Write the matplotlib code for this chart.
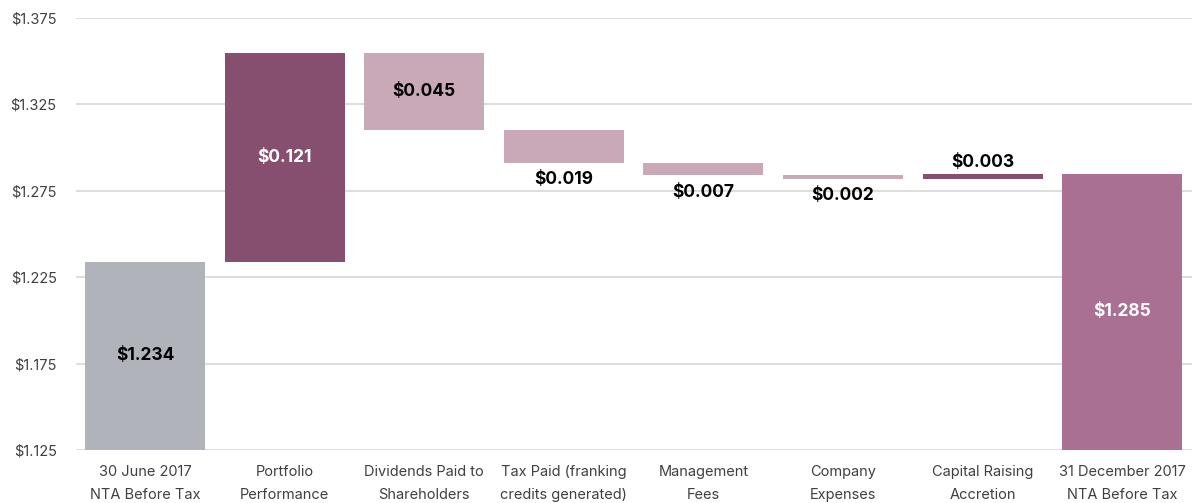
import matplotlib
matplotlib.use('Agg')
import matplotlib.pyplot as plt
import numpy as np

# Данні водоспаду NTA
categories = ['30 June 2017\nNTA Before Tax', 'Portfolio\nPerformance',
              'Dividends Paid to\nShareholders', 'Tax Paid (franking\ncredits generated)',
              'Management\nFees', 'Company\nExpenses', 'Capital Raising\nAccretion',
              '31 December 2017\nNTA Before Tax']
start_nta = 1.234
changes = [0.121, -0.045, -0.019, -0.007, -0.002, 0.003]
end_nta = 1.285
labels = ['$1.234', '$0.121', '$0.045', '$0.019', '$0.007', '$0.002', '$0.003', '$1.285']
yticks = [1.125, 1.175, 1.225, 1.275, 1.325, 1.375]

base_y = 1.125
c_grey = '#b0b3ba'
c_dark = '#874f6f'
c_light = '#c9a8b8'
c_end = '#aa7093'

plt.rcParams['font.family'] = ['Inter', 'DejaVu Sans']

fig = plt.figure(figsize=(11.92, 5.03), dpi=100)
ax = fig.add_axes([0.0638, 0.1054, 0.9362, 0.8588])

x = np.arange(len(categories))
w = 0.86

# низ і висота кожного стовпця
bottoms = [base_y]
heights = [start_nta - base_y]
colors = [c_grey]
level = start_nta
for ch in changes:
    new = level + ch
    bottoms.append(min(level, new))
    heights.append(abs(ch))
    colors.append(c_dark if ch > 0 else c_light)
    level = new
bottoms.append(base_y)
heights.append(end_nta - base_y)
colors.append(c_end)

ax.bar(x, heights, bottom=bottoms, width=w, color=colors, zorder=2)

# підписи значень
for i in range(len(categories)):
    b, h = bottoms[i], heights[i]
    if i in (0, 1, 2, 7):
        col = 'white' if i in (1, 7) else 'black'
        ax.text(x[i], b + h / 2, labels[i], ha='center', va='center', color=col,
                fontsize=12.5, fontweight='bold', zorder=3)
    elif changes[i - 1] > 0:
        ax.annotate(labels[i], (x[i], b + h), xytext=(0, 2), textcoords='offset points',
                    ha='center', va='bottom', fontsize=12.5, fontweight='bold')
    else:
        ax.annotate(labels[i], (x[i], b), xytext=(0, -6), textcoords='offset points',
                    ha='center', va='top', fontsize=12.5, fontweight='bold')

ax.set_ylim(1.125, 1.375)
ax.set_xlim(-0.495, len(categories) - 1 + 0.5)
ax.set_yticks(yticks)
ax.set_yticklabels(['${:.3f}'.format(v) for v in yticks])
ax.set_xticks(x)
ax.set_xticklabels(categories, linespacing=1.75)
ax.yaxis.grid(True, color='#dedede', linewidth=1.5, zorder=0)
ax.set_axisbelow(True)
for s in ax.spines.values():
    s.set_visible(False)
ax.tick_params(axis='both', length=0, labelsize=10.5, colors='#404040')
ax.tick_params(axis='y', pad=14)
ax.tick_params(axis='x', pad=11)

plt.savefig('out.png', dpi=100)
